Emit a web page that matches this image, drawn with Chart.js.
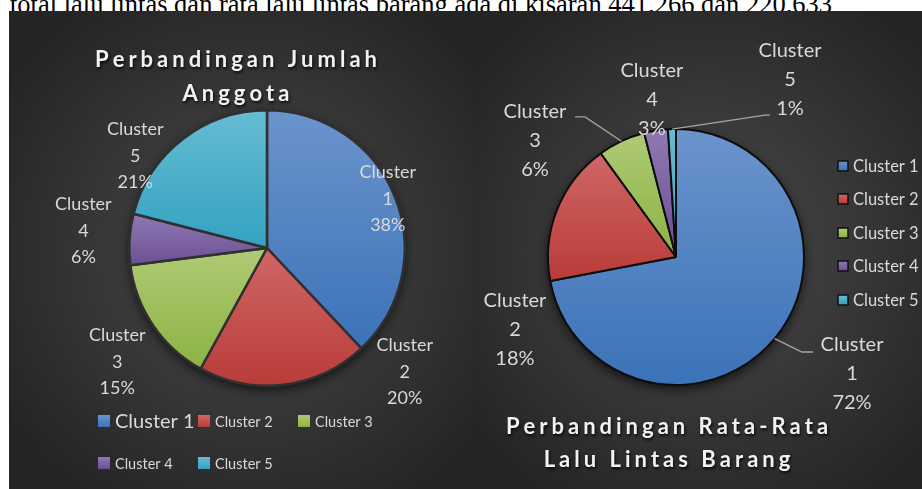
<!DOCTYPE html>
<html>
<head>
<meta charset="utf-8">
<script src="https://cdn.jsdelivr.net/npm/chart.js@4.4.0/dist/chart.umd.min.js"></script>
<style>
html, body { margin: 0; padding: 0; background: #fff; width: 922px; height: 489px; overflow: hidden; position: relative; }
#caption { position: absolute; left: 10px; top: -9px; font-family: "Liberation Serif", "Times New Roman", serif; font-size: 26.5px; line-height: 26.5px; color: #000; white-space: nowrap; }
.panel { position: absolute; top: 11px; height: 478px; }
#leftBox { left: 9px; width: 464px; }
#rightBox { left: 473px; width: 449px; }
</style>
</head>
<body>
<div id="caption">total lalu lintas dan rata lalu lintas barang ada di kisaran 441.266 dan 220.633</div>
<div class="panel" id="leftBox"><canvas id="memberChart"></canvas></div>
<div class="panel" id="rightBox"><canvas id="goodsChart"></canvas></div>
<script>
// data
var clusterLabels = ['Cluster 1', 'Cluster 2', 'Cluster 3', 'Cluster 4', 'Cluster 5'];
var memberShare = [38, 20, 15, 6, 21];
var goodsTrafficShare = [72, 18, 6, 3, 1];
var memberTitle = ['Perbandingan Jumlah', 'Anggota'];
var goodsTitle = ['Perbandingan Rata-Rata', 'Lalu Lintas Barang'];

// top / bottom shade of each slice
var sliceColors = [
    ['#6b94cc', '#3b72b8'],
    ['#cf6765', '#b93b38'],
    ['#afca75', '#8bb342'],
    ['#9079b3', '#6a4e93'],
    ['#66bcd3', '#33a2c1']
];
var textColor = '#d9d9d9';
var labelFont = '"Lato", "Open Sans", sans-serif';

var sliceFill = function (values) {
    return function (ctx) {
        var chart = ctx.chart;
        var ca = chart.chartArea;
        var pair = sliceColors[ctx.dataIndex % sliceColors.length];
        if (!ca) return pair[1];
        var cx = (ca.left + ca.right) / 2, cy = (ca.top + ca.bottom) / 2;
        var r = Math.min(ca.width, ca.height) / 2;
        var total = 0, before = 0;
        for (var i = 0; i < values.length; i++) {
            total += values[i];
            if (i < ctx.dataIndex) before += values[i];
        }
        var a0 = -Math.PI / 2 + before / total * Math.PI * 2;
        var a1 = a0 + values[ctx.dataIndex] / total * Math.PI * 2;
        var minY = cy, maxY = cy;
        for (var k = 0; k <= 24; k++) {
            var yy = cy + Math.sin(a0 + (a1 - a0) * k / 24) * r;
            minY = Math.min(minY, yy);
            maxY = Math.max(maxY, yy);
        }
        var g = chart.ctx.createLinearGradient(0, minY, 0, maxY + 1);
        g.addColorStop(0, pair[0]);
        g.addColorStop(1, pair[1]);
        return g;
    };
};

var spacedText = function (c, text, cx, cy, spacing) {
    var w = 0;
    for (var i = 0; i < text.length; i++) w += c.measureText(text[i]).width + spacing;
    w -= spacing;
    var x = cx - w / 2;
    c.textAlign = 'left';
    for (var j = 0; j < text.length; j++) {
        c.fillText(text[j], x, cy);
        x += c.measureText(text[j]).width + spacing;
    }
};

var backdrop = {
    id: 'backdrop',
    beforeDraw: function (chart) {
        var c = chart.ctx, w = chart.width, h = chart.height;
        var g = c.createRadialGradient(w * 0.52, h * 0.5, 0, w * 0.52, h * 0.5, Math.max(w, h) * 0.62);
        g.addColorStop(0, '#4b4b4b');
        g.addColorStop(1, '#242424');
        c.save();
        c.fillStyle = g;
        c.fillRect(0, 0, w, h);
        c.restore();
    },
    beforeDatasetsDraw: function (chart) {
        var arc = chart.getDatasetMeta(0).data[0];
        if (!arc) return;
        var c = chart.ctx;
        c.save();
        c.shadowColor = 'rgba(0,0,0,0.7)';
        c.shadowBlur = 12;
        c.shadowOffsetY = 4;
        c.fillStyle = '#222';
        c.beginPath();
        c.arc(arc.x, arc.y, arc.outerRadius, 0, Math.PI * 2);
        c.fill();
        c.restore();
    }
};

var decorations = {
    id: 'decor',
    afterDatasetsDraw: function (chart, args, o) {
        var c = chart.ctx;
        var meta = chart.getDatasetMeta(0);
        var vals = chart.data.datasets[0].data;
        var total = vals.reduce(function (a, b) { return a + b; }, 0);
        c.save();
        // leader lines
        c.strokeStyle = '#a6a6a6';
        c.lineWidth = 1.3;
        meta.data.forEach(function (arc, i) {
            var lead = o.leaders[i];
            if (!lead) return;
            var r = arc.outerRadius;
            var mid = (arc.startAngle + arc.endAngle) / 2;
            c.beginPath();
            c.moveTo(arc.x + Math.cos(mid) * r, arc.y + Math.sin(mid) * r);
            c.lineTo(arc.x + lead[0] * r, arc.y + lead[1] * r);
            c.lineTo(arc.x + lead[2] * r, arc.y + lead[3] * r);
            c.stroke();
        });
        // data labels
        c.fillStyle = textColor;
        c.font = o.labelSize + 'px ' + labelFont;
        c.textAlign = 'center';
        c.textBaseline = 'middle';
        meta.data.forEach(function (arc, i) {
            var r = arc.outerRadius;
            var lx = arc.x + o.offsets[i][0] * r;
            var ly = arc.y + o.offsets[i][1] * r;
            var parts = chart.data.labels[i].split(' ');
            var lines = [parts[0], parts[1], Math.round(vals[i] / total * 100) + '%'];
            for (var k = 0; k < lines.length; k++) {
                c.fillText(lines[k], lx, ly + (k - 1) * o.lineHeight);
            }
        });
        c.restore();
    },
    afterDraw: function (chart, args, o) {
        var c = chart.ctx;
        c.save();
        // title
        c.font = 'bold ' + o.titleSize + 'px ' + labelFont;
        c.fillStyle = '#f2f2f2';
        c.textBaseline = 'middle';
        c.shadowColor = 'rgba(0,0,0,0.8)';
        c.shadowBlur = 3;
        c.shadowOffsetX = 1;
        c.shadowOffsetY = 2;
        for (var t = 0; t < o.title.length; t++) {
            spacedText(c, o.title[t], o.titlePos[0], o.titlePos[1] + t * o.titleGap, o.titleSpacing);
        }
        c.restore();
        // legend
        c.save();
        c.textBaseline = 'middle';
        c.textAlign = 'left';
        chart.data.labels.forEach(function (lbl, i) {
            var it = o.legend[i];
            var s = o.box;
            var pair = sliceColors[i];
            var g = c.createLinearGradient(0, it[1] - s / 2, 0, it[1] + s / 2);
            g.addColorStop(0, pair[0]);
            g.addColorStop(1, pair[1]);
            c.fillStyle = g;
            c.fillRect(it[0], it[1] - s / 2, s, s);
            if (o.boxBorder) {
                c.strokeStyle = '#111';
                c.lineWidth = 1.5;
                c.strokeRect(it[0], it[1] - s / 2, s, s);
            }
            c.fillStyle = textColor;
            c.font = it[2] + 'px ' + labelFont;
            c.fillText(lbl, it[0] + s + 5, it[1] + 1);
        });
        c.restore();
    }
};

var memberChart = new Chart(document.getElementById('memberChart'), {
    type: 'pie',
    data: {
        labels: clusterLabels,
        datasets: [{
            data: memberShare,
            backgroundColor: sliceFill(memberShare),
            borderColor: '#303030',
            borderWidth: 2.5
        }]
    },
    options: {
        responsive: true,
        maintainAspectRatio: false,
        animation: false,
        layout: { padding: { left: 119, right: 67, top: 98, bottom: 102 } },
        plugins: {
            legend: { display: false },
            tooltip: { enabled: false },
            decor: {
                labelSize: 18,
                lineHeight: 26.5,
                offsets: [[0.877, -0.355], [1.0, 0.9], [-1.087, 0.826], [-1.333, -0.123], [-0.957, -0.667]],
                leaders: [null, null, null, null, null],
                title: memberTitle,
                titleSize: 22,
                titleSpacing: 4,
                titlePos: [227, 49],
                titleGap: 34,
                box: 12,
                boxBorder: false,
                legend: [[89, 410, 20], [189, 410, 14.5], [289, 410, 14.5], [89, 452, 14.5], [189, 452, 14.5]]
            }
        }
    },
    plugins: [backdrop, decorations]
});

var goodsChart = new Chart(document.getElementById('goodsChart'), {
    type: 'pie',
    data: {
        labels: clusterLabels,
        datasets: [{
            data: goodsTrafficShare,
            backgroundColor: sliceFill(goodsTrafficShare),
            borderColor: '#0d0d0d',
            borderWidth: 2
        }]
    },
    options: {
        responsive: true,
        maintainAspectRatio: false,
        animation: false,
        layout: { padding: { left: 74, right: 117, top: 117, bottom: 103 } },
        plugins: {
            legend: { display: false },
            tooltip: { enabled: false },
            decor: {
                labelSize: 20,
                lineHeight: 29,
                offsets: [[1.375, 0.914], [-1.258, 0.57], [-1.102, -0.906], [-0.188, -1.234], [0.891, -1.383]],
                leaders: [[0.984, 0.742, 1.07, 0.742], null, [-0.711, -1.094, -0.789, -1.094], null, [0.695, -1.109, 0.734, -1.109]],
                title: goodsTitle,
                titleSize: 22,
                titleSpacing: 4,
                titlePos: [194, 416],
                titleGap: 33,
                box: 10,
                boxBorder: true,
                legend: [[365, 155, 16.5], [365, 188, 16.5], [365, 222, 16.5], [365, 255, 16.5], [365, 289, 16.5]]
            }
        }
    },
    plugins: [backdrop, decorations]
});
</script>
</body>
</html>
